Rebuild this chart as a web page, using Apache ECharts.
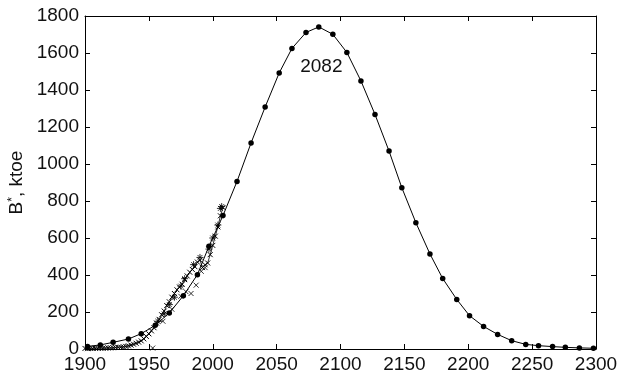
<!DOCTYPE html>
<html>
<head>
<meta charset="utf-8">
<script src="https://cdn.jsdelivr.net/npm/echarts@6/dist/echarts.min.js"></script>
<style>html,body{margin:0;padding:0;background:#fff}#c{width:618px;height:383px}</style>
</head>
<body>
<div id="c"></div>
<script>
// Model curve (dots)
var modelYears = [1902,1912,1922,1934,1944,1955,1966,1977,1988,1997,2008,2019,2030,2041,2052,2062,2073,2083,2094,2105,2116,2127,2138,2148,2159,2170,2180,2191,2201,2212,2223,2234,2245,2255,2266,2276,2287,2298];
var modelValues = [14,22,36,54,83,128,195,288,402,555,721,906,1114,1308,1492,1625,1711,1741,1701,1603,1449,1268,1070,872,683,514,381,268,180,122,79,45,25,18,13,9,6,4];

// Historical data, line with x markers
var histYears = [1900,1902,1904,1906,1908,1910,1912,1914,1916,1918,1920,1922,1924,1926,1928,1930,1932,1934,1936,1938,1940,1942,1944,1946,1948,1950,1952,1954,1956,1958,1960,1962,1964,1966,1968,1970,1972,1974,1976,1978,1980,1982,1984,1986,1988,1990,1992,1994,1996,1998,2000,2002,2004,2006,2008];
var histValues = [3,2,3,3,4,4,5,4,5,6,6,7,8,9,10,12,14,17,21,26,31,37,44,55,68,82,98,115,140,160,185,205,235,255,280,300,320,335,350,375,395,415,430,445,470,480,440,455,465,510,560,610,660,720,765];

// Scattered x markers (second data set)
var scatYears = [1953,1961,1968,1975,1979,1983,1987,1991,1994];
var scatValues = [5,150,215,285,310,300,345,420,440];

// Asterisk markers
var starYears = [1957,1962,1966,1970,1975,1978,1985,1990,1997,2000,2004,2006,2007];
var starValues = [150,190,240,280,340,380,456,495,540,600,670,760,770];

var xTicks = [1900,1950,2000,2050,2100,2150,2200,2250,2300];
var peakLabel = '2082';

function pairs(xs, ys){ return xs.map(function(x,i){return [x, ys[i]];}); }

var font = 'Liberation Sans, Arial, Helvetica, sans-serif';
var chart = echarts.init(document.getElementById('c'), null, {renderer:'canvas'});
var crossPath = 'path://M0,0L10,10M10,0L0,10';
var starPath = 'path://M5,0L5,10M0,5L10,5M1.5,1.5L8.5,8.5M8.5,1.5L1.5,8.5';
var axisCommon = {
  axisLine:{show:true, onZero:false, lineStyle:{color:'#000', width:1}},
  axisTick:{show:true, inside:true, length:5, lineStyle:{color:'#000'}},
  splitLine:{show:false}
};
function plain(v){ return String(v); }
chart.setOption({
  animation:false,
  backgroundColor:'#fff',
  grid:{left:85, right:22, top:16, bottom:34, containLabel:false, outerBoundsMode:'none'},
  xAxis:[
    Object.assign({type:'value', min:1900, max:2300, interval:50, position:'bottom',
      axisLabel:{color:'#111', fontSize:19, fontFamily:font, margin:6, formatter:plain}}, axisCommon),
    Object.assign({type:'value', min:1900, max:2300, interval:50, position:'top',
      axisLabel:{show:false}}, axisCommon)
  ],
  yAxis:[
    Object.assign({type:'value', min:0, max:1800, interval:200, position:'left',
      name:'{n|B}{sup|*}{n|, ktoe}', nameLocation:'middle', nameGap:58, nameRotate:90,
      nameTextStyle:{color:'#111', fontSize:19, fontFamily:font,
        rich:{n:{fontSize:19, color:'#111', fontFamily:font},
              sup:{fontSize:12, verticalAlign:'top', padding:[0,0,6,0], color:'#111', fontFamily:font}}},
      axisLabel:{color:'#111', fontSize:19, fontFamily:font, margin:6, formatter:plain}}, axisCommon),
    Object.assign({type:'value', min:0, max:1800, interval:200, position:'right',
      axisLabel:{show:false}}, axisCommon)
  ],
  series:[
    {type:'line', data:pairs(histYears, histValues), symbol:crossPath, symbolSize:5,
      lineStyle:{color:'#000', width:0.8}, itemStyle:{color:'transparent', borderColor:'#000', borderWidth:1}, z:3},
    {type:'scatter', data:pairs(scatYears, scatValues), symbol:crossPath, symbolSize:5,
      itemStyle:{color:'transparent', borderColor:'#000', borderWidth:1}, z:3},
    {type:'scatter', data:pairs(starYears, starValues), symbol:starPath, symbolSize:7,
      itemStyle:{color:'transparent', borderColor:'#000', borderWidth:1}, z:3},
    {type:'line', data:pairs(modelYears, modelValues), symbol:'circle', symbolSize:5.5, showSymbol:true,
      lineStyle:{color:'#000', width:1}, itemStyle:{color:'#000'}, z:4,
      markPoint:{symbol:'circle', symbolSize:0, silent:true,
        label:{show:true, formatter:peakLabel, color:'#111', fontSize:19, fontFamily:font, position:'inside'},
        data:[{coord:[2085, 1528]}]}}
  ]
});
</script>
</body>
</html>
